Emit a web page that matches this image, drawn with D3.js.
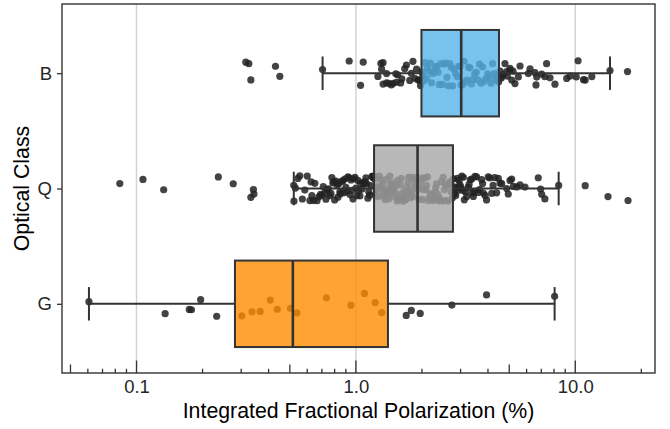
<!DOCTYPE html>
<html>
<head>
<meta charset="utf-8">
<script src="https://cdn.jsdelivr.net/npm/d3@7"></script>
<style>
  html, body { margin: 0; padding: 0; background: #fff; }
  svg { display: block; }
  text { font-family: "Liberation Sans", Arial, Helvetica, sans-serif; }
</style>
</head>
<body>
<svg id="chart" width="670" height="429"></svg>
<script>
// ---- data -------------------------------------------------------------
const categories = ["B", "Q", "G"];

// integrated fractional polarization (%) per source, by optical class
const polB = [
  0.315, 0.325, 0.332, 0.430, 0.450, 0.705,
  0.932, 1.05, 1.08, 1.26, 1.30, 1.31, 1.33, 1.33, 1.38, 1.38, 1.41, 1.45,
  1.48, 1.52, 1.53, 1.55, 1.60, 1.62, 1.67, 1.70, 1.76, 1.79, 1.82, 1.86,
  1.89, 1.92, 1.95, 1.97,
  2.00, 2.02, 2.04, 2.07, 2.10, 2.12, 2.15, 2.18, 2.21, 2.24, 2.27, 2.30,
  2.34, 2.37, 2.40, 2.44, 2.48, 2.52, 2.56, 2.60, 2.64, 2.68, 2.72, 2.76,
  2.80, 2.85, 2.90, 2.94, 2.98, 3.02, 3.06, 3.11, 3.16, 3.21, 3.26, 3.31,
  3.36, 3.42, 3.48, 3.54, 3.60, 3.66, 3.72, 3.78, 3.85, 3.92, 3.99, 4.06,
  4.13, 4.20, 4.27, 4.34, 4.41, 4.47,
  4.54, 4.60, 4.62, 4.70, 4.78, 4.87, 4.90, 5.04, 5.04, 5.13, 5.20, 5.31,
  5.50, 5.60, 6.11, 6.22, 6.55, 6.62, 6.67, 7.03, 7.27, 7.40, 7.67, 8.08,
  9.14, 9.46, 10.1, 10.3, 10.9, 11.1, 11.9, 14.4, 17.3
];

const polQ = [
  0.0839, 0.107, 0.133, 0.236, 0.276, 0.332, 0.341, 0.343,
  0.521, 0.522, 0.530, 0.544, 0.555, 0.570, 0.585, 0.600, 0.617, 0.625,
  0.630, 0.640, 0.650, 0.665, 0.678, 0.690, 0.700, 0.710, 0.722, 0.730,
  0.738, 0.750, 0.761, 0.770, 0.777, 0.785, 0.794, 0.800, 0.811, 0.820,
  0.828, 0.835, 0.845, 0.850, 0.863, 0.870, 0.882, 0.890, 0.900, 0.910,
  0.920, 0.930, 0.939, 0.950, 0.959, 0.970, 0.979, 0.990, 1.00, 1.01,
  1.021, 1.03, 1.043, 1.05, 1.065, 1.075, 1.088, 1.10, 1.111, 1.12,
  1.134, 1.145, 1.158, 1.17, 1.183, 1.195, 1.20,
  1.21, 1.22, 1.23, 1.24, 1.25, 1.26, 1.27, 1.28, 1.29, 1.30, 1.31, 1.32,
  1.33, 1.34, 1.35, 1.36, 1.37, 1.38, 1.39, 1.40, 1.41, 1.42, 1.43, 1.44,
  1.45, 1.46, 1.47, 1.48, 1.49, 1.50, 1.52, 1.53, 1.54, 1.55, 1.57, 1.58,
  1.60, 1.61, 1.62, 1.64, 1.65, 1.67, 1.68, 1.70, 1.71, 1.73, 1.74, 1.76,
  1.77, 1.79, 1.80, 1.82, 1.84, 1.85, 1.87, 1.89, 1.90, 1.92, 1.94, 1.96,
  1.98, 2.00, 2.02, 2.04, 2.06, 2.08, 2.10, 2.12, 2.14, 2.16, 2.18, 2.20,
  2.22, 2.24, 2.27, 2.29, 2.31, 2.33, 2.36, 2.38, 2.40, 2.43, 2.45, 2.48,
  2.50, 2.53, 2.55, 2.58, 2.61, 2.63, 2.66, 2.69, 2.72, 2.75,
  2.78, 2.80, 2.82, 2.85, 2.88, 2.90, 2.93, 2.95, 2.98, 3.01, 3.04, 3.07,
  3.09, 3.12, 3.16, 3.20, 3.25, 3.28, 3.32, 3.37, 3.40, 3.43, 3.46, 3.49,
  3.55, 3.61, 3.66, 3.74, 3.78, 3.81, 3.88, 3.94, 4.01, 4.08, 4.16, 4.22,
  4.30, 4.38, 4.46, 4.54, 4.62, 4.87, 4.95, 5.04, 5.13, 5.22, 5.41, 5.60,
  5.90, 6.78, 6.95, 7.03, 7.27, 8.40, 11.1, 14.1, 17.4
];

const polG = [
  0.0607, 0.135, 0.174, 0.178, 0.196, 0.232, 0.302, 0.336, 0.366, 0.407,
  0.438, 0.503, 0.538, 0.734, 0.949, 1.094, 1.224, 1.311, 1.696, 1.789,
  1.964, 2.738, 3.94, 8.05
];

// box-and-whisker summary, in the order of `categories`
const whiskerLow  = [0.705, 0.521, 0.0607];
const quartile1   = [1.99, 1.21, 0.281];
const medianVal   = [3.02, 1.91, 0.516];
const quartile3   = [4.49, 2.77, 1.40];
const whiskerHigh = [14.4, 8.40, 8.05];

const xTickValues = [0.1, 1, 10];
const xTickLabels = ["0.1", "1.0", "10.0"];

// ---- layout -----------------------------------------------------------
const W = 670, H = 429;
const panel = { left: 62, right: 655, top: 4, bottom: 373 };
const fillColor = { B: "#56B4E9", Q: "#A6A6A6", G: "#FF8C00" };
const ink = "#333333";
const tickFont = 18.5, titleFont = 21.3;

const seriesByClass = { B: polB, Q: polQ, G: polG };
const allValues = [].concat(polB, polQ, polG);

// log domain padded by 5% of the data span on each side
const [lmin, lmax] = d3.extent(allValues, v => Math.log10(v));
const pad = (lmax - lmin) * 0.05;
const x = d3.scaleLog()
  .domain([Math.pow(10, lmin - pad), Math.pow(10, lmax + pad)])
  .range([panel.left, panel.right]);

const y = d3.scalePoint()
  .domain(categories)
  .range([panel.top, panel.bottom])
  .padding(0.6);
const step = y.step();

const svg = d3.select("#chart");

// panel background + vertical grid at decades
svg.append("rect")
  .attr("x", panel.left).attr("y", panel.top)
  .attr("width", panel.right - panel.left)
  .attr("height", panel.bottom - panel.top)
  .attr("fill", "#fff");

svg.append("g").selectAll("line")
  .data(xTickValues)
  .join("line")
  .attr("x1", d => x(d)).attr("x2", d => x(d))
  .attr("y1", panel.top).attr("y2", panel.bottom)
  .attr("stroke", "#d4d4d4")
  .attr("stroke-width", 1.5);

// jittered points (vertical jitter only)
const jitter = d3.randomUniform.source(d3.randomLcg(0.4172))(-1, 1);
const points = [];
categories.forEach(cat => {
  seriesByClass[cat].forEach(v => {
    points.push({ cat, v, dy: jitter() * step * 0.11 });
  });
});

svg.append("g").selectAll("circle")
  .data(points)
  .join("circle")
  .attr("cx", d => x(d.v))
  .attr("cy", d => y(d.cat) + d.dy)
  .attr("r", 3.6)
  .attr("fill", "#222")
  .attr("fill-opacity", 0.85);

// boxplots drawn over the points
const boxH = step * 0.75;
const capH = step * 0.29;
const boxes = svg.append("g")
  .selectAll("g")
  .data(categories.map((cat, i) => ({
    cat, lo: whiskerLow[i], q1: quartile1[i], med: medianVal[i],
    q3: quartile3[i], hi: whiskerHigh[i]
  })))
  .join("g");

boxes.append("line")
  .attr("x1", d => x(d.lo)).attr("x2", d => x(d.q1))
  .attr("y1", d => y(d.cat)).attr("y2", d => y(d.cat))
  .attr("stroke", ink).attr("stroke-width", 2);
boxes.append("line")
  .attr("x1", d => x(d.q3)).attr("x2", d => x(d.hi))
  .attr("y1", d => y(d.cat)).attr("y2", d => y(d.cat))
  .attr("stroke", ink).attr("stroke-width", 2);
boxes.append("line")
  .attr("x1", d => x(d.lo)).attr("x2", d => x(d.lo))
  .attr("y1", d => y(d.cat) - capH / 2).attr("y2", d => y(d.cat) + capH / 2)
  .attr("stroke", ink).attr("stroke-width", 2);
boxes.append("line")
  .attr("x1", d => x(d.hi)).attr("x2", d => x(d.hi))
  .attr("y1", d => y(d.cat) - capH / 2).attr("y2", d => y(d.cat) + capH / 2)
  .attr("stroke", ink).attr("stroke-width", 2);
boxes.append("rect")
  .attr("x", d => x(d.q1))
  .attr("y", d => y(d.cat) - boxH / 2)
  .attr("width", d => x(d.q3) - x(d.q1))
  .attr("height", boxH)
  .attr("fill", d => fillColor[d.cat])
  .attr("fill-opacity", 0.8)
  .attr("stroke", ink).attr("stroke-width", 2);
boxes.append("line")
  .attr("x1", d => x(d.med)).attr("x2", d => x(d.med))
  .attr("y1", d => y(d.cat) - boxH / 2).attr("y2", d => y(d.cat) + boxH / 2)
  .attr("stroke", ink).attr("stroke-width", 2.6);

// log tick marks along the inside of the bottom edge
const logTicks = x.ticks().filter(t => t >= x.domain()[0] && t <= x.domain()[1]);
svg.append("g").selectAll("line")
  .data(logTicks)
  .join("line")
  .attr("x1", d => x(d)).attr("x2", d => x(d))
  .attr("y1", panel.bottom)
  .attr("y2", d => {
    const m = Math.round(d / Math.pow(10, Math.floor(Math.log10(d) + 1e-9)));
    const len = m === 1 ? 12.5 : (m === 5 ? 8.5 : 4.2);
    return panel.bottom - len;
  })
  .attr("stroke", ink).attr("stroke-width", 1.3);

// panel border
svg.append("rect")
  .attr("x", panel.left).attr("y", panel.top)
  .attr("width", panel.right - panel.left)
  .attr("height", panel.bottom - panel.top)
  .attr("fill", "none")
  .attr("stroke", ink).attr("stroke-width", 1.4);

// y axis
const yAxis = svg.append("g")
  .attr("transform", `translate(${panel.left},0)`)
  .call(d3.axisLeft(y).tickSize(5).tickPadding(5));
yAxis.select(".domain").remove();
yAxis.selectAll(".tick line").attr("stroke", ink).attr("stroke-width", 1.3);
yAxis.selectAll(".tick text")
  .attr("font-size", tickFont).attr("fill", "#262626")
  .style("font-family", '"Liberation Sans", Arial, sans-serif');

// x axis labels
const xAxis = svg.append("g")
  .attr("transform", `translate(0,${panel.bottom})`)
  .call(d3.axisBottom(x).tickValues(xTickValues)
    .tickFormat((d, i) => xTickLabels[i]).tickSize(0).tickPadding(7));
xAxis.select(".domain").remove();
xAxis.selectAll(".tick text")
  .attr("font-size", tickFont).attr("fill", "#262626")
  .style("font-family", '"Liberation Sans", Arial, sans-serif');

// axis titles
svg.append("text")
  .attr("x", (panel.left + panel.right) / 2)
  .attr("y", 418)
  .attr("text-anchor", "middle")
  .attr("font-size", titleFont)
  .attr("fill", "#000")
  .text("Integrated Fractional Polarization (%)");

svg.append("text")
  .attr("transform", `translate(29,${(panel.top + panel.bottom) / 2}) rotate(-90)`)
  .attr("text-anchor", "middle")
  .attr("font-size", titleFont)
  .attr("fill", "#000")
  .text("Optical Class");
</script>
</body>
</html>
